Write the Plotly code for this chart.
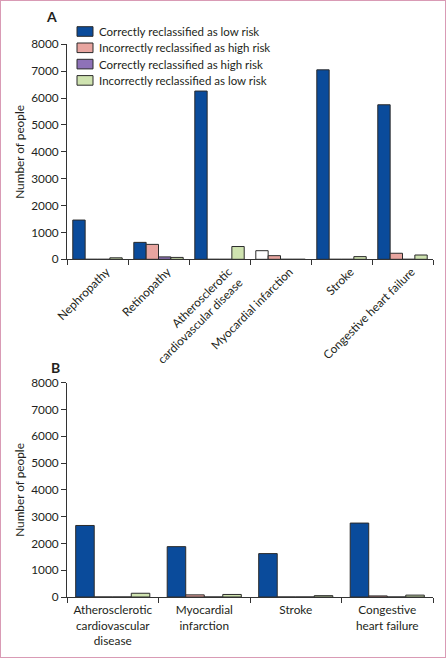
import plotly.graph_objects as go

W, H = 446, 658

# ---- data ----
cats_a = ["Nephropathy", "Retinopathy", "Atherosclerotic<br>cardiovascular disease",
          "Myocardial infarction", "Stroke", "Congestive heart failure"]
correct_low_a = [1460, 630, 6260, 320, 7050, 5750]
incorrect_high_a = [0, 555, 0, 135, 0, 225]
correct_high_a = [0, 90, 0, 0, 0, 0]
incorrect_low_a = [55, 70, 475, 0, 100, 160]

cats_b = ["Atherosclerotic<br>cardiovascular<br>disease", "Myocardial<br>infarction",
          "Stroke", "Congestive<br>heart failure"]
correct_low_b = [2670, 1880, 1620, 2760]
incorrect_high_b = [0, 80, 0, 40]
correct_high_b = [0, 0, 0, 0]
incorrect_low_b = [140, 95, 50, 70]

series_names = ["Correctly reclassified as low risk", "Incorrectly reclassified as high risk",
                "Correctly reclassified as high risk", "Incorrectly reclassified as low risk"]
colors = ["#0a4b9b", "#e8a5a0", "#8e72b8", "#cfe3b0"]
# the myocardial infarction bar in panel A is drawn unfilled in the source
colors_low_a = [colors[0], colors[0], colors[0], "#ffffff", colors[0], colors[0]]

FONT = "Lato"
FS = 11.8
TXT = "#231f20"
AX = "#333333"
EDGE = "#2b2b2b"

fig = go.Figure()
series_a = [correct_low_a, incorrect_high_a, correct_high_a, incorrect_low_a]
series_b = [correct_low_b, incorrect_high_b, correct_high_b, incorrect_low_b]
for i, (name, vals) in enumerate(zip(series_names, series_a)):
    fig.add_trace(go.Bar(
        x=cats_a, y=vals, name=name, xaxis="x", yaxis="y",
        marker=dict(color=colors_low_a if i == 0 else colors[i],
                    line=dict(color=EDGE, width=1)),
        showlegend=False))
for i, (name, vals) in enumerate(zip(series_names, series_b)):
    fig.add_trace(go.Bar(
        x=cats_b, y=vals, name=name, xaxis="x2", yaxis="y2",
        marker=dict(color=colors[i], line=dict(color=EDGE, width=1)),
        showlegend=False))

def px_x(p):
    return p / W

def px_y(p):
    return 1 - p / H

xdom = [px_x(67), px_x(433)]
ya = [px_y(259.3), px_y(44.3)]
yb = [px_y(597), px_y(382.7)]

axis_common = dict(showline=True, linecolor=AX, linewidth=1, ticks="outside",
                   ticklen=5, tickcolor=AX, tickwidth=1, showgrid=False,
                   zeroline=False, automargin=False,
                   tickfont=dict(family=FONT, size=FS, color=TXT))

fig.update_layout(
    width=W, height=H, margin=dict(l=0, r=0, t=0, b=0),
    paper_bgcolor="white", plot_bgcolor="white",
    barmode="group", bargap=0.19, bargroupgap=0,
    font=dict(family=FONT, size=FS, color=TXT),
    xaxis=dict(domain=xdom, anchor="y", type="category", tickson="boundaries",
               tickangle=-45, ticklabelshift=9, **axis_common),
    yaxis=dict(domain=ya, anchor="x", range=[0, 8000], dtick=1000, **axis_common),
    xaxis2=dict(domain=xdom, anchor="y2", type="category", tickson="boundaries",
                tickangle=0, ticklabelstandoff=2, **axis_common),
    yaxis2=dict(domain=yb, anchor="x2", range=[0, 8000], dtick=1000, **axis_common),
    showlegend=False,
)

# legend (drawn by hand to match the compact spacing of the source)
for i, (name, col) in enumerate(zip(series_names, colors)):
    yc = 31.5 + 16.3 * i
    fig.add_shape(type="rect", xref="paper", yref="paper",
                  x0=px_x(77), x1=px_x(93), y0=px_y(yc + 4.8), y1=px_y(yc - 4.8),
                  fillcolor=col, line=dict(color=EDGE, width=1))
    fig.add_annotation(text=name, x=px_x(96.5), y=px_y(yc), xref="paper", yref="paper",
                       xanchor="left", yanchor="middle", showarrow=False,
                       font=dict(family=FONT, size=11.5, color=TXT))

fig.add_annotation(text="<b>A</b>", x=px_x(51.5), y=px_y(16.7), xref="paper", yref="paper",
                   xanchor="center", yanchor="middle", showarrow=False,
                   font=dict(family=FONT, size=14, color=TXT))
fig.add_annotation(text="<b>B</b>", x=px_x(55.5), y=px_y(367), xref="paper", yref="paper",
                   xanchor="center", yanchor="middle", showarrow=False,
                   font=dict(family=FONT, size=14, color=TXT))
for yc in [(44.3 + 259.3) / 2, (382.7 + 597) / 2]:
    fig.add_annotation(text="Number of people", x=px_x(20), y=px_y(yc), xref="paper",
                       yref="paper", xanchor="center", yanchor="middle",
                       showarrow=False, textangle=-90,
                       font=dict(family=FONT, size=FS, color=TXT))

fig.add_shape(type="rect", xref="paper", yref="paper", x0=0, x1=1, y0=0, y1=1,
              line=dict(color="#d99bb5", width=2), fillcolor="rgba(0,0,0,0)")

fig.write_html("out.html", config={"displayModeBar": False},
               post_script="document.body.style.margin='0';document.body.style.padding='0';")
